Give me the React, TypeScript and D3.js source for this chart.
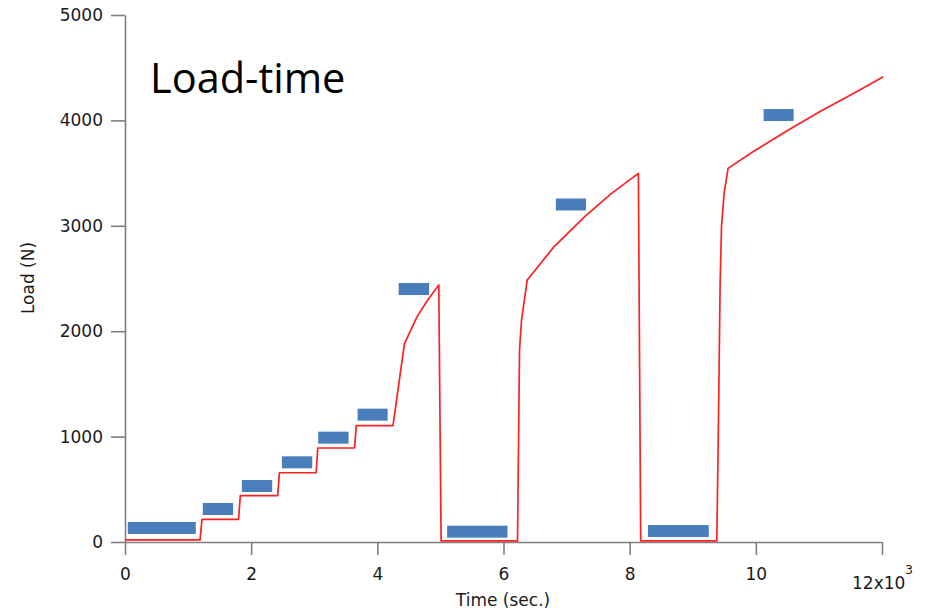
import React, { useEffect, useRef } from "react";
import * as d3 from "d3";

// Red load-time trace (time in s, load in N)
const traceTime = [0, 1190, 1220, 1800, 1828, 2420, 2448, 3030, 3056, 3640, 3665, 4249, 4429, 4630, 4810, 4974, 5011, 6222, 6254, 6286, 6376, 6799, 7275, 7698, 8138, 8175, 9381, 9402, 9434, 9456, 9497, 9560, 9973, 10503, 11032, 11561, 12021];
const traceLoad = [20, 20, 215, 215, 440, 440, 657, 657, 892, 892, 1104, 1104, 1879, 2138, 2305, 2438, 10, 10, 1822, 2106, 2486, 2800, 3080, 3300, 3498, 10, 10, 873, 2455, 2992, 3308, 3545, 3710, 3905, 4090, 4260, 4415];

// Blue marker bars (start time, end time, load level)
const barStart = [44, 1233, 1852, 2487, 3063, 3687, 4338, 5106, 6830, 8290, 10123];
const barEnd = [1123, 1714, 2333, 2968, 3544, 4163, 4821, 6063, 7307, 9254, 10599];
const barLoad = [133, 313, 531, 756, 990, 1208, 2400, 98, 3202, 104, 4051];

const xTicks = [0, 2000, 4000, 6000, 8000, 10000, 12000];
const yTicks = [0, 1000, 2000, 3000, 4000, 5000];

const W = 926;
const H = 611;

export default function App() {
  const xAxisRef = useRef<SVGGElement>(null);
  const yAxisRef = useRef<SVGGElement>(null);

  const x = d3.scaleLinear().domain([0, 12000]).range([125, 882]);
  const y = d3.scaleLinear().domain([0, 5000]).range([542, 15]);

  useEffect(() => {
    const fmtX = (d: any) => (d === 12000 ? "" : String(d / 1000));
    const xa = d3.axisBottom(x).tickValues(xTicks).tickSize(13).tickSizeOuter(0).tickPadding(13).tickFormat(fmtX as any);
    const ya = d3.axisLeft(y).tickValues(yTicks).tickSize(14).tickSizeOuter(0).tickPadding(8).tickFormat(d3.format("d") as any);
    const gx = d3.select(xAxisRef.current!);
    const gy = d3.select(yAxisRef.current!);
    gx.call(xa as any);
    gy.call(ya as any);
    [gx, gy].forEach((g) => {
      g.attr("font-family", "DejaVu Sans").attr("font-size", 17);
      g.selectAll("path.domain").attr("stroke", "#7f7f7f").attr("stroke-width", 1.6);
      g.selectAll(".tick line").attr("stroke", "#7f7f7f").attr("stroke-width", 1.6);
      g.selectAll(".tick text").attr("fill", "#1a1a1a");
    });
    const last = gx.selectAll<SVGGElement, number>(".tick").filter((d) => d === 12000).select("text");
    last.text(null).attr("y", 35);
    last.append("tspan").text("12x10");
    last.append("tspan").attr("font-size", 12).attr("dy", "-15").text("3");
  }, []);

  const line = d3
    .line<number>()
    .x((_, i) => x(traceTime[i]))
    .y((d) => y(d));

  return (
    <svg width={W} height={H} style={{ position: "absolute", left: 0, top: 0, background: "#fff" }}>
      <g ref={yAxisRef} transform={`translate(${x(0)},0)`} />
      <g ref={xAxisRef} transform={`translate(0,${y(0)})`} />
      {barStart.map((s, i) => (
        <rect
          key={i}
          x={x(s)}
          y={y(barLoad[i]) - 6}
          width={x(barEnd[i]) - x(s)}
          height={12}
          fill="#4a7ebb"
        />
      ))}
      <path d={line(traceLoad) || ""} fill="none" stroke="#ff2020" strokeWidth={1.7} strokeLinejoin="round" />
      <text x={150} y={93} fontFamily="Open Sans" fontSize={41.5} fill="#000">
        Load-time
      </text>
      <text x={503} y={606} textAnchor="middle" fontFamily="DejaVu Sans" fontSize={17} fill="#1a1a1a">
        Time (sec.)
      </text>
      <text
        transform="translate(34,278) rotate(-90)"
        textAnchor="middle"
        fontFamily="DejaVu Sans"
        fontSize={17}
        fill="#1a1a1a"
      >
        Load (N)
      </text>
    </svg>
  );
}
